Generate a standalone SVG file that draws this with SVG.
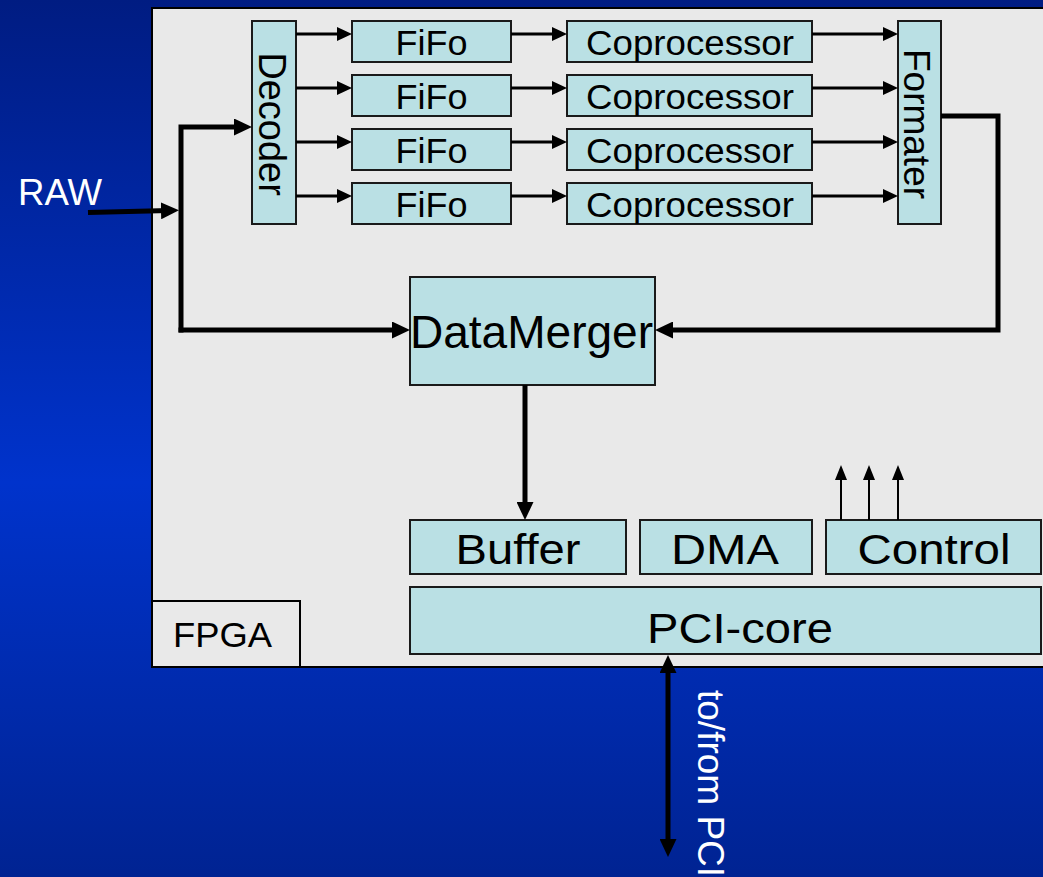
<svg xmlns="http://www.w3.org/2000/svg" width="1043" height="877" viewBox="0 0 1043 877">
  <defs>
    <linearGradient id="bg" x1="0" y1="0" x2="0" y2="1">
      <stop offset="0" stop-color="#001c82"/>
      <stop offset="0.55" stop-color="#0033cc"/>
      <stop offset="1" stop-color="#002392"/>
    </linearGradient>
    <!-- arrowheads: line ends are pulled back so the tip lands on the target edge -->
    <marker id="ah" markerUnits="userSpaceOnUse" markerWidth="15" markerHeight="14" refX="7" refY="7" orient="auto">
      <path d="M0,0 L15,7 L0,14 z" fill="#000"/>
    </marker>
    <marker id="ahb" markerUnits="userSpaceOnUse" markerWidth="18" markerHeight="17" refX="8" refY="8.5" orient="auto-start-reverse">
      <path d="M0,0 L18,8.5 L0,17 z" fill="#000"/>
    </marker>
    <marker id="ahs" markerUnits="userSpaceOnUse" markerWidth="15" markerHeight="12" refX="7" refY="6" orient="auto">
      <path d="M0,0 L15,6 L0,12 z" fill="#000"/>
    </marker>
  </defs>
  <style>
    .blk { fill: #bae0e4; stroke: #1a1a1a; stroke-width: 2; }
    .lbl { font-family: "Liberation Sans", Arial, sans-serif; fill: #000; }
    .wht { font-family: "Liberation Sans", Arial, sans-serif; fill: #fff; }
    .thin { fill: none; stroke: #000; stroke-width: 3; marker-end: url(#ah); }
    .bold { fill: none; stroke: #000; stroke-width: 5; marker-end: url(#ahb); }
    .ctl { fill: none; stroke: #000; stroke-width: 2; marker-end: url(#ahs); }
  </style>

  <!-- backdrop -->
  <rect x="0" y="0" width="1043" height="877" fill="url(#bg)"/>

  <!-- FPGA container -->
  <g id="fpga">
    <rect x="152" y="8" width="900" height="659" fill="#e9e9e9" stroke="#000" stroke-width="2"/>
    <rect x="152" y="601" width="148" height="66" fill="#e9e9e9" stroke="#000" stroke-width="2"/>
    <text class="lbl" x="173" y="647" font-size="35" textLength="99" lengthAdjust="spacingAndGlyphs">FPGA</text>
  </g>

  <text id="raw" class="wht" x="18" y="205" font-size="36" textLength="84" lengthAdjust="spacingAndGlyphs">RAW</text>

  <g id="decoder">
    <rect class="blk" x="252" y="21" width="44" height="203"/>
    <text class="lbl" font-size="38" text-anchor="middle" transform="translate(259,124) rotate(90)">Decoder</text>
  </g>

  <g id="fifo1"><rect class="blk" x="352" y="21" width="159" height="41"/>
    <text class="lbl" x="431.5" y="55" font-size="35" text-anchor="middle" textLength="72" lengthAdjust="spacingAndGlyphs">FiFo</text></g>
  <g id="fifo2"><rect class="blk" x="352" y="75" width="159" height="41"/>
    <text class="lbl" x="431.5" y="109" font-size="35" text-anchor="middle" textLength="72" lengthAdjust="spacingAndGlyphs">FiFo</text></g>
  <g id="fifo3"><rect class="blk" x="352" y="129" width="159" height="41"/>
    <text class="lbl" x="431.5" y="163" font-size="35" text-anchor="middle" textLength="72" lengthAdjust="spacingAndGlyphs">FiFo</text></g>
  <g id="fifo4"><rect class="blk" x="352" y="183" width="159" height="41"/>
    <text class="lbl" x="431.5" y="217" font-size="35" text-anchor="middle" textLength="72" lengthAdjust="spacingAndGlyphs">FiFo</text></g>

  <g id="cop1"><rect class="blk" x="567" y="21" width="245" height="41"/>
    <text class="lbl" x="690" y="55" font-size="35" text-anchor="middle" textLength="208" lengthAdjust="spacingAndGlyphs">Coprocessor</text></g>
  <g id="cop2"><rect class="blk" x="567" y="75" width="245" height="41"/>
    <text class="lbl" x="690" y="109" font-size="35" text-anchor="middle" textLength="208" lengthAdjust="spacingAndGlyphs">Coprocessor</text></g>
  <g id="cop3"><rect class="blk" x="567" y="129" width="245" height="41"/>
    <text class="lbl" x="690" y="163" font-size="35" text-anchor="middle" textLength="208" lengthAdjust="spacingAndGlyphs">Coprocessor</text></g>
  <g id="cop4"><rect class="blk" x="567" y="183" width="245" height="41"/>
    <text class="lbl" x="690" y="217" font-size="35" text-anchor="middle" textLength="208" lengthAdjust="spacingAndGlyphs">Coprocessor</text></g>

  <g id="formater">
    <rect class="blk" x="898" y="21" width="43" height="203"/>
    <text class="lbl" font-size="37" text-anchor="middle" transform="translate(904,124) rotate(90)">Formater</text>
  </g>

  <g id="datamerger">
    <rect class="blk" x="410" y="277" width="245" height="108"/>
    <text class="lbl" x="531.5" y="348" font-size="46" text-anchor="middle" textLength="243" lengthAdjust="spacingAndGlyphs">DataMerger</text>
  </g>

  <g id="buffer">
    <rect class="blk" x="410" y="520" width="216" height="54"/>
    <text class="lbl" x="518" y="564" font-size="43" text-anchor="middle" textLength="125" lengthAdjust="spacingAndGlyphs">Buffer</text>
  </g>
  <g id="dma">
    <rect class="blk" x="640" y="520" width="172" height="54"/>
    <text class="lbl" x="725" y="564" font-size="43" text-anchor="middle" textLength="108" lengthAdjust="spacingAndGlyphs">DMA</text>
  </g>
  <g id="control">
    <rect class="blk" x="826" y="520" width="215" height="54"/>
    <text class="lbl" x="934" y="564" font-size="43" text-anchor="middle" textLength="153" lengthAdjust="spacingAndGlyphs">Control</text>
  </g>
  <g id="pcicore">
    <rect class="blk" x="410" y="587" width="631" height="67"/>
    <text class="lbl" x="740" y="643" font-size="42" text-anchor="middle" textLength="186" lengthAdjust="spacingAndGlyphs">PCI-core</text>
  </g>

  <text id="pci-label" class="wht" font-size="37" transform="translate(698,690) rotate(90)">to/from PCI</text>

  <g id="connectors">
    <!-- decoder to fifos -->
    <path class="thin" d="M296,34 H344"/>
    <path class="thin" d="M296,88 H344"/>
    <path class="thin" d="M296,142 H344"/>
    <path class="thin" d="M296,196 H344"/>
    <!-- fifos to coprocessors -->
    <path class="thin" d="M511,34 H559"/>
    <path class="thin" d="M511,88 H559"/>
    <path class="thin" d="M511,142 H559"/>
    <path class="thin" d="M511,196 H559"/>
    <!-- coprocessors to formater -->
    <path class="thin" d="M812,34 H890"/>
    <path class="thin" d="M812,88 H890"/>
    <path class="thin" d="M812,142 H890"/>
    <path class="thin" d="M812,196 H890"/>
    <!-- raw input split -->
    <path class="bold" d="M88,212.5 L169,210.6"/>
    <path class="bold" d="M181,332.5 V127 H242" stroke-linejoin="miter"/>
    <path class="bold" d="M178.5,330 H400"/>
    <!-- formater back to merger -->
    <path class="bold" d="M941,116 H998 V330 H665" stroke-linejoin="miter"/>
    <!-- merger to buffer -->
    <path class="bold" stroke-width="4" d="M525,385 V510"/>
    <!-- control outputs -->
    <path class="ctl" d="M841,520 V473"/>
    <path class="ctl" d="M869,520 V473"/>
    <path class="ctl" d="M898,520 V473"/>
    <!-- pci bus -->
    <path class="bold" stroke-width="4" d="M668,665 V847" marker-start="url(#ahb)"/>
  </g>
</svg>
